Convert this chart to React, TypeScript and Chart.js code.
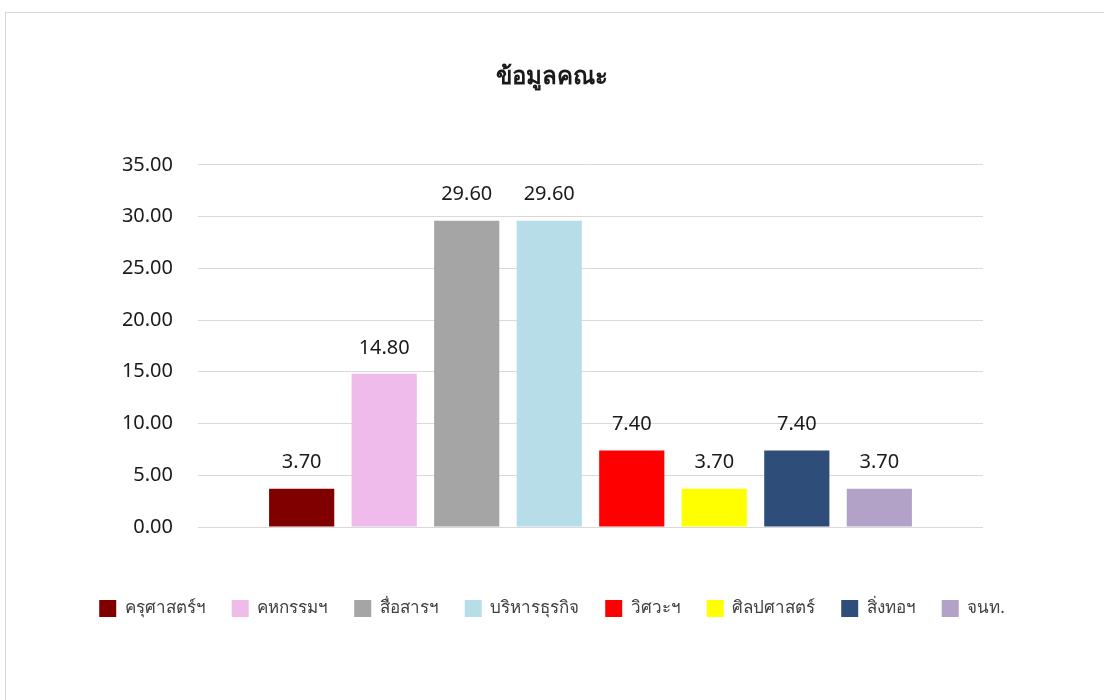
import React, { useEffect, useRef } from "react";
import { Chart, registerables } from "chart.js";

Chart.register(...registerables);

const TITLE = "ข้อมูลคณะ";
const CATEGORIES = [""];
const SERIES_NAMES = [
  "ครุศาสตร์ฯ",
  "คหกรรมฯ",
  "สื่อสารฯ",
  "บริหารธุรกิจ",
  "วิศวะฯ",
  "ศิลปศาสตร์",
  "สิ่งทอฯ",
  "จนท.",
];
const SERIES_VALUES = [3.7, 14.8, 29.6, 29.6, 7.4, 3.7, 7.4, 3.7];
const SERIES_COLORS = [
  "#800000",
  "#EFBBEA",
  "#A5A5A5",
  "#B7DDE8",
  "#FF0000",
  "#FFFF00",
  "#2E4D78",
  "#B3A2C7",
];
const Y_MIN = 0;
const Y_MAX = 35;
const Y_STEP = 5;

const FONT = "'Noto Sans', 'DejaVu Sans', sans-serif";

const valueLabels = {
  id: "valueLabels",
  afterDatasetsDraw(chart: any) {
    const ctx = chart.ctx;
    ctx.save();
    ctx.font = `20px ${FONT}`;
    ctx.fillStyle = "#1a1a1a";
    ctx.textAlign = "center";
    ctx.textBaseline = "middle";
    chart.data.datasets.forEach((ds: any, i: number) => {
      const meta = chart.getDatasetMeta(i);
      meta.data.forEach((bar: any, j: number) => {
        const v = ds.data[j] as number;
        ctx.fillText(v.toFixed(2), bar.x, bar.y - 26);
      });
    });
    ctx.restore();
  },
};

export default function App() {
  const ref = useRef<HTMLCanvasElement | null>(null);

  useEffect(() => {
    document.body.style.margin = "0";
    if (!ref.current) return;
    const chart = new Chart(ref.current, {
      type: "bar",
      data: {
        labels: CATEGORIES,
        datasets: SERIES_NAMES.map((name, i) => ({
          label: name,
          data: [SERIES_VALUES[i]],
          backgroundColor: SERIES_COLORS[i],
          borderWidth: 0,
          categoryPercentage: 0.841,
          barPercentage: 0.79,
        })),
      },
      options: {
        responsive: false,
        animation: false,
        layout: { padding: { left: 0, right: 0, top: 0, bottom: 73 } },
        plugins: {
          title: {
            display: true,
            text: TITLE,
            color: "#1a1a1a",
            font: { family: FONT, size: 24, weight: "bold", lineHeight: 1.2 },
            padding: { top: 63, bottom: 73 },
          },
          legend: {
            display: true,
            position: "bottom",
            labels: {
              boxWidth: 17,
              boxHeight: 17,
              padding: 26,
              color: "#404040",
              font: { family: FONT, size: 17 },
            },
          },
          tooltip: { enabled: false },
        },
        scales: {
          x: {
            display: true,
            ticks: { display: false },
            grid: { display: false },
            border: { display: false },
            afterFit: (s: any) => {
              s.height = 47;
            },
          },
          y: {
            min: Y_MIN,
            max: Y_MAX,
            ticks: {
              stepSize: Y_STEP,
              padding: 25,
              color: "#1a1a1a",
              font: { family: FONT, size: 20 },
              callback: (v: any) => Number(v).toFixed(2),
            },
            grid: { color: "#d9d9d9", lineWidth: 1, drawTicks: false },
            border: { display: false },
            afterFit: (s: any) => {
              s.width = 198;
            },
          },
          yRight: {
            position: "right",
            display: true,
            ticks: { display: false },
            grid: { display: false },
            border: { display: false },
            afterFit: (s: any) => {
              s.width = 121;
            },
          },
        },
      },
      plugins: [valueLabels],
    });
    return () => chart.destroy();
  }, []);

  return (
    <div style={{ position: "relative", width: 1104, height: 700, overflow: "hidden" }}>
      <div
        style={{
          position: "absolute",
          left: 5,
          top: 12,
          width: 1120,
          height: 720,
          border: "1.5px solid #d9d9d9",
          boxSizing: "border-box",
        }}
      />
      <canvas
        ref={ref}
        width={1104}
        height={700}
        style={{ position: "absolute", left: 0, top: 0 }}
      />
    </div>
  );
}
